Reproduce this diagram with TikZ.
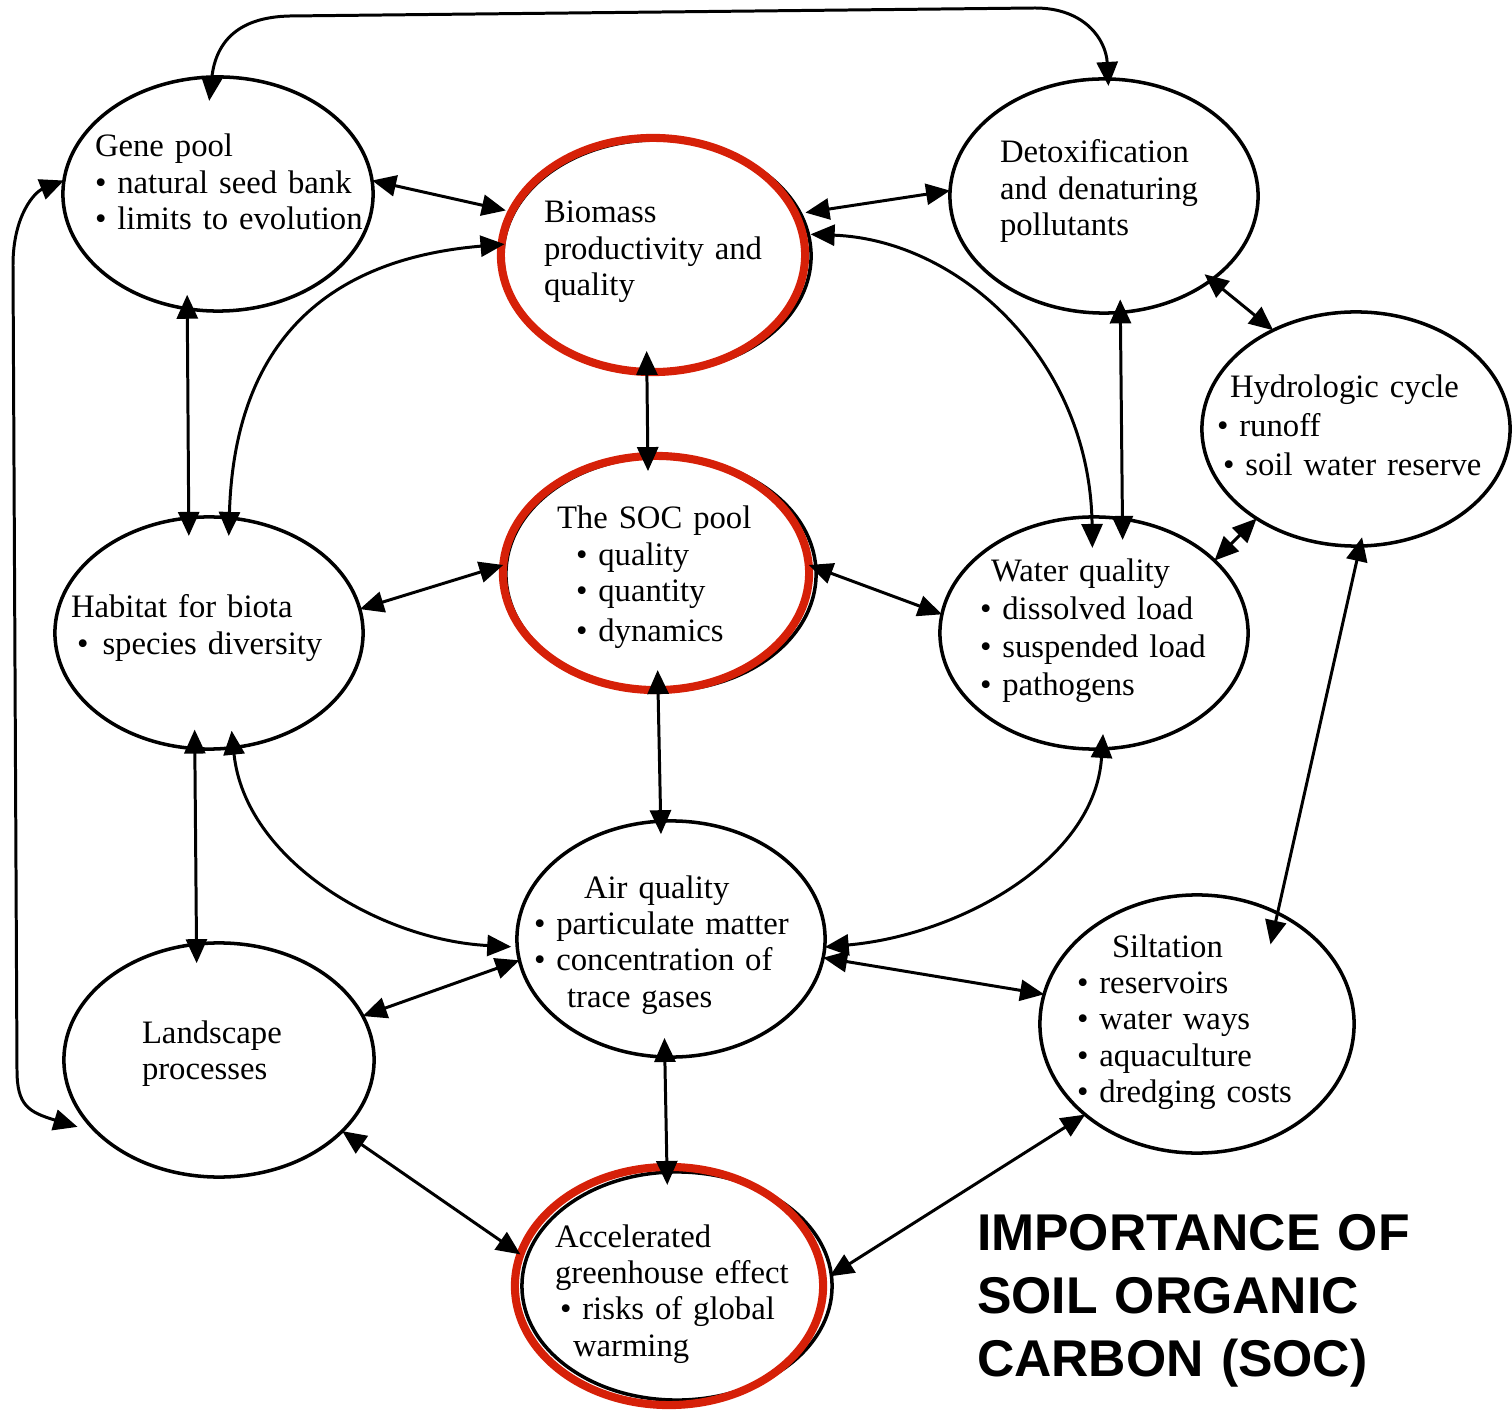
\documentclass[tikz,border=0pt]{standalone}
\usepackage{fontspec}
\setmainfont{Liberation Serif}
\newfontfamily\titlefont{Liberation Sans}
\usetikzlibrary{arrows.meta,shapes.geometric}
\definecolor{socred}{RGB}{214,32,8}
\begin{document}
\begin{tikzpicture}[x=0.01cm,y=-0.01cm,
  ell/.style={ellipse, draw=black, line width=1pt, inner sep=0pt, outer sep=0pt},
  redell/.style={ellipse, draw=socred, line width=2.3pt, inner sep=0pt, outer sep=0pt},
  esize/.style 2 args={minimum width=#1, minimum height=#2},
  link/.style={{Triangle[length=0.24cm,width=0.21cm]}-{Triangle[length=0.24cm,width=0.21cm]}, line width=0.85pt},
  txt/.style={anchor=base west, inner sep=0pt, outer sep=0pt, text width=4cm, align=left, font=\fontsize{9.3pt}{10.35pt}\selectfont},
  titletext/.style={anchor=base west, inner sep=0pt, outer sep=0pt, text width=6cm, align=left, font=\titlefont\bfseries\fontsize{14.7pt}{18pt}\selectfont}]
\useasboundingbox (0,0) rectangle (1512,1413);

% ellipses
\node[ell, esize={3.10cm}{2.34cm}] (gene) at (218,194) {};
\node[ell, esize={3.08cm}{2.32cm}] (biok) at (657,256) {};
\node[redell, esize={3.04cm}{2.34cm}] (bio) at (653,255) {};
\node[ell, esize={3.08cm}{2.34cm}] (detox) at (1104,196) {};
\node[ell, esize={3.08cm}{2.34cm}] (hydro) at (1356,429) {};
\node[ell, esize={3.08cm}{2.32cm}] (habitat) at (209,633) {};
\node[ell, esize={3.10cm}{2.34cm}] (sock) at (661,574) {};
\node[redell, esize={3.06cm}{2.34cm}] (soc) at (656,573) {};
\node[ell, esize={3.08cm}{2.32cm}] (water) at (1094,633) {};
\node[ell, esize={3.08cm}{2.36cm}] (air) at (671,939) {};
\node[ell, esize={3.10cm}{2.34cm}] (land) at (219,1060) {};
\node[ell, esize={3.14cm}{2.58cm}] (silt) at (1197,1024) {};
\node[ell, esize={3.10cm}{2.28cm}] (ghk) at (677,1286) {};
\node[redell, esize={3.08cm}{2.38cm}] (gh) at (669,1286) {};

% connectors
\draw[link, shorten <=-0.24cm, shorten >=-0.07cm] (gene.93) .. controls (216,40) and (240,17) .. (290,16) -- (1035,8) .. controls (1085,8) and (1106,40) .. (detox.88);
\draw[link, shorten >=0.21cm] (gene.175) .. controls (35,192) and (13,215) .. (13,265) -- (17,1070) .. controls (17,1105) and (28,1112) .. (land.211);
\draw[link, shorten >=0.06cm] (gene.5.5) -- (bio.163.5);
\draw[link, shorten <=-0.14cm, shorten >=-0.18cm] (gene.255) -- (habitat.100.8);
\draw[link, shorten <=-0.03cm, shorten >=-0.18cm] (bio.176.7) .. controls (340,258) and (235,330) .. (habitat.80.6);
\draw[link, shorten <=-0.21cm, shorten >=-0.15cm] (bio.267) -- (soc.94.3);
\draw[link, shorten <=0.10cm] (bio.16.6) -- (detox.178);
\draw[link, shorten <=0.08cm, shorten >=-0.31cm] (bio.8.2) .. controls (960,240) and (1090,360) .. (water.91);
\draw[link, shorten <=-0.13cm, shorten >=-0.21cm] (detox.278.8) -- (water.76.2);
\draw[link, shorten <=-0.09cm] (detox.322.3) -- (hydro.130.6);
\draw[link] (hydro.222.8) -- (water.31.7);
\draw[link, shorten <=-0.09cm, shorten >=-0.32cm] (hydro.272) -- (silt.54.3);
\draw[link] (soc.177) -- (habitat.9.3);
\draw[link] (soc.3.2) -- (water.173);
\draw[link, shorten <=-0.20cm, shorten >=-0.13cm] (soc.271) -- (air.95.8);
\draw[link, shorten <=-0.19cm, shorten >=-0.19cm] (habitat.263.6) -- (land.101.2);
\draw[link, shorten <=-0.17cm, shorten >=0.06cm] (habitat.282.3) .. controls (245,860) and (380,940) .. (air.183);
\draw[link] (air.188.9) -- (land.17.6);
\draw[link, shorten <=-0.15cm] (water.274.4) .. controls (1095,860) and (960,935) .. (air.357.4);
\draw[link] (air.353.3) -- (silt.169.2);
\draw[link, shorten <=-0.19cm, shorten >=-0.18cm] (air.267.6) -- (gh.91.4);
\draw[link] (land.330.2) -- (gh.168.8);
\draw[link, shorten >=0.08cm] (silt.219.5) -- (gh.2.1);

% texts
\node[txt] (tgene) at (95,157) {Gene pool\\\textbullet{} natural seed bank\\\textbullet{} limits to evolution};
\node[txt] (tbio) at (544,223) {Biomass\\productivity and\\quality};
\node[txt] (tdetox) at (1000,163) {Detoxification\\and denaturing\\pollutants};
\node[txt, font=\fontsize{9.3pt}{11pt}\selectfont] (thydro) at (1217,398) {\hspace*{0.13cm}Hydrologic cycle\\\textbullet{} runoff\\\hspace*{0.06cm}\textbullet{} soil water reserve};
\node[txt] (thab) at (71,618) {Habitat for biota\\\hspace*{0.06cm}\textbullet\hspace{4pt}species diversity};
\node[txt] (tsoc) at (557,529) {The SOC pool\\\hspace*{0.19cm}\textbullet{} quality\\\hspace*{0.19cm}\textbullet{} quantity\\[1pt]\hspace*{0.19cm}\textbullet{} dynamics};
\node[txt, font=\fontsize{9.3pt}{10.8pt}\selectfont] (twater) at (980,582) {\hspace*{0.11cm}Water quality\\\textbullet{} dissolved load\\\textbullet{} suspended load\\\textbullet{} pathogens};
\node[txt] (tair) at (534,898) {\hspace*{0.50cm}Air quality\\\textbullet{} particulate matter\\\textbullet{} concentration of\\\hspace*{0.33cm}trace gases};
\node[txt] (tland) at (142,1043) {Landscape\\processes};
\node[txt] (tsilt) at (1077,957) {\hspace*{0.35cm}Siltation\\\textbullet{} reservoirs\\\textbullet{} water ways\\\textbullet{} aquaculture\\\textbullet{} dredging costs};
\node[txt] (tgh) at (555,1247) {Accelerated\\greenhouse effect\\\hspace*{0.05cm}\textbullet{} risks of global\\\hspace*{0.18cm}warming};
\node[titletext] (title) at (977,1250) {IMPORTANCE OF\\SOIL ORGANIC\\CARBON (SOC)};
\end{tikzpicture}
\end{document}
